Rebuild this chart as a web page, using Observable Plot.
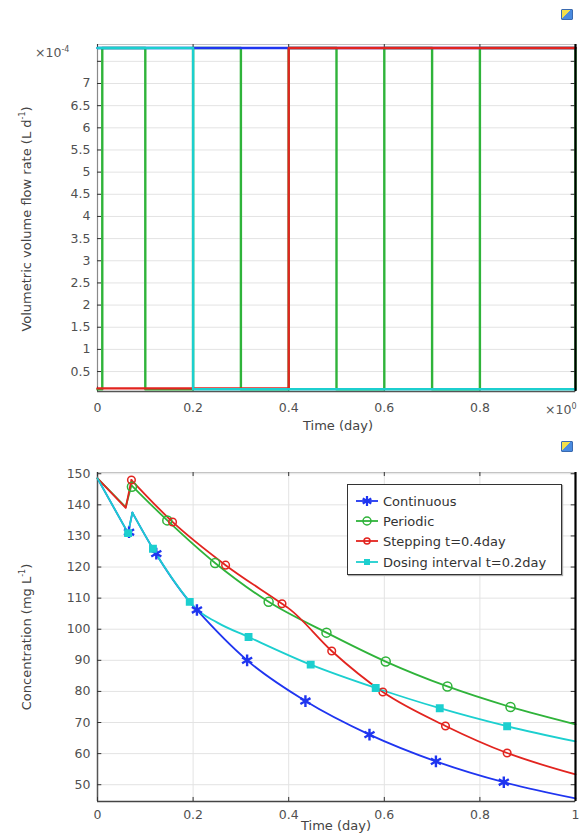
<!DOCTYPE html>
<html>
<head>
<meta charset="utf-8">
<script src="https://cdn.jsdelivr.net/npm/d3@7"></script>
<script src="https://cdn.jsdelivr.net/npm/@observablehq/plot@0.6"></script>
<style>
  html, body { margin: 0; padding: 0; background: #fff; }
  #page { position: relative; width: 584px; height: 833px; overflow: hidden; font-family: "DejaVu Sans", sans-serif; color: #444; }
  .abs { position: absolute; }
  .ylab { position: absolute; white-space: nowrap; font-size: 13px; color: #444; transform: translate(-50%, -50%) rotate(-90deg); }
  .xlab { position: absolute; white-space: nowrap; font-size: 13px; color: #444; transform: translate(-50%, -50%); }
  .icon { position: absolute; width: 10px; height: 9px; border: 1px solid #3a6ab0; background: linear-gradient(135deg, #f4e04a 0 45%, #4a8be0 45% 100%); border-radius: 1px; }
  #legend { position: absolute; left: 347px; top: 484px; width: 213px; height: 89px; border: 1.5px solid #333; background: #fff; box-shadow: 1px 1px 1px #aaa; }
  .lrow { position: absolute; left: 8px; height: 20px; display: flex; align-items: center; font-size: 13px; color: #333; white-space: nowrap; }
  .lrow svg { margin-right: 5px; }
</style>
</head>
<body>
<div id="page">
  <div id="topChart" class="abs" style="left:0;top:0"></div>
  <div id="botChart" class="abs" style="left:0;top:436px"></div>
</div>
<script>
// ---------------- Top chart: volumetric volume flow rate (×10⁻⁴ L d⁻¹) ----------------
const timeTicks = [0, 0.2, 0.4, 0.6, 0.8, 1];
const topTimeLabels = [0, 0.2, 0.4, 0.6, 0.8];
const flowTicks = [0.5, 1, 1.5, 2, 2.5, 3, 3.5, 4, 4.5, 5, 5.5, 6, 6.5, 7, 7.5];
const flowTickLabels = [0.5, 1, 1.5, 2, 2.5, 3, 3.5, 4, 4.5, 5, 5.5, 6, 6.5, 7];
const flowDomain = [0.05, 7.88];

const contFlowT = [0, 1];
const contFlowQ = [7.8, 7.8];
const stepFlowT = [0, 0.4, 0.4, 1];
const stepFlowQ = [0.12, 0.12, 7.8, 7.8];
const doseFlowT = [0, 0.2, 0.2, 1];
const doseFlowQ = [7.8, 7.8, 0.1, 0.1];
const periodicFlowT = [0, 0.01, 0.01, 0.1, 0.1, 0.2, 0.2, 0.3, 0.3, 0.4, 0.4, 0.5, 0.5, 0.6, 0.6, 0.7, 0.7, 0.8, 0.8, 1.0, 1.0];
const periodicFlowQ = [0.1, 0.1, 7.8, 7.8, 0.1, 0.1, 7.8, 7.8, 0.1, 0.1, 7.8, 7.8, 0.1, 0.1, 7.8, 7.8, 0.1, 0.1, 7.8, 7.8, 0.1];

// ---------------- Bottom chart: concentration (mg L⁻¹) ----------------
const concTicks = [50, 60, 70, 80, 90, 100, 110, 120, 130, 140, 150];
const concDomain = [44.6, 150.4];

// first three points of each series: start, dip, peak (drawn straight); the rest is a smooth decay
const contT = [0, 0.064, 0.073, 0.116, 0.193, 0.208, 0.313, 0.435, 0.569, 0.708, 0.85, 1.0];
const contC = [148.5, 130.9, 137.5, 125.9, 108.8, 106.2, 90, 76.9, 66.1, 57.5, 50.8, 45.6];
const contMarkT = [0.066, 0.123, 0.208, 0.313, 0.435, 0.569, 0.708, 0.85];
const contMarkC = [131.2, 124.3, 106.2, 90, 76.9, 66.1, 57.5, 50.8];

const perT = [0, 0.059, 0.071, 0.146, 0.246, 0.358, 0.479, 0.603, 0.732, 0.864, 1.0];
const perC = [148.5, 139.3, 146.3, 135, 121.3, 108.8, 98.9, 89.6, 81.6, 75, 69.4];
const perMarkT = [0.072, 0.146, 0.246, 0.358, 0.479, 0.603, 0.732, 0.864];
const perMarkC = [145.8, 135, 121.3, 108.8, 98.9, 89.6, 81.6, 75];

const stepT = [0, 0.059, 0.071, 0.157, 0.268, 0.386, 0.40, 0.49, 0.597, 0.728, 0.857, 1.0];
const stepC = [148.5, 139, 148, 134.5, 120.6, 108.2, 106.7, 93, 79.8, 68.9, 60.2, 53.3];
const stepMarkT = [0.071, 0.157, 0.268, 0.386, 0.49, 0.597, 0.728, 0.857];
const stepMarkC = [148, 134.5, 120.6, 108.2, 93, 79.8, 68.9, 60.2];

const doseT = [0, 0.064, 0.073, 0.116, 0.193, 0.2, 0.25, 0.316, 0.446, 0.582, 0.716, 0.857, 1.0];
const doseC = [148.5, 130.9, 137.5, 125.9, 108.8, 107.5, 102.2, 97.5, 88.6, 81.1, 74.6, 68.8, 63.9];
const doseMarkT = [0.064, 0.116, 0.193, 0.316, 0.446, 0.582, 0.716, 0.857];
const doseMarkC = [130.9, 125.9, 108.8, 97.5, 88.6, 81.1, 74.6, 68.8];

const seriesNames = ["Continuous", "Periodic", "Stepping t=0.4day", "Dosing interval t=0.2day"];
const colors = { blue: "#1f35f0", green: "#2fb33a", red: "#e2241f", cyan: "#1ccfcf" };

const zip = (xs, ys) => xs.map((x, i) => ({ x, y: ys[i] }));
const fmt = d => String(d);

const baseStyle = { fontFamily: "DejaVu Sans, sans-serif", fontSize: "12.5px", color: "#505050", background: "#fff", overflow: "visible" };

// ---------- Top plot ----------
const yMinT = flowDomain[0], yMaxT = flowDomain[1];
const topPlot = Plot.plot({
  width: 584, height: 436,
  marginLeft: 97, marginRight: 9, marginTop: 44, marginBottom: 45,
  style: baseStyle,
  x: { domain: [0, 1] },
  y: { domain: flowDomain },
  marks: [
    Plot.gridY(flowTicks, { stroke: "#e3e3e3", strokeOpacity: 1 }),
    Plot.gridX(timeTicks, { stroke: "#e3e3e3", strokeOpacity: 1 }),
    Plot.frame({ stroke: "#c4c4c4" }),
    Plot.ruleX([0], { stroke: "#8a8a8a", strokeWidth: 1.2 }),
    Plot.ruleY([yMinT], { stroke: "#555", strokeWidth: 1.5 }),
    Plot.ruleY(flowTicks, { y: d => d, x1: 0, x2: 0.009, stroke: "#333" }),
    Plot.ruleY(flowTicks, { y: d => d, x1: 0.991, x2: 1, stroke: "#333" }),
    Plot.ruleX(timeTicks, { x: d => d, y1: yMinT, y2: yMinT + 0.1, stroke: "#333" }),
    Plot.ruleX(timeTicks, { x: d => d, y1: yMaxT - 0.1, y2: yMaxT, stroke: "#333" }),
    Plot.axisY(flowTickLabels, { tickSize: 0, tickPadding: 7, label: null, fill: "#505050", tickFormat: fmt }),
    Plot.axisX(topTimeLabels, { tickSize: 0, tickPadding: 12, label: null, fill: "#505050", tickFormat: fmt }),
    Plot.line(zip(periodicFlowT, periodicFlowQ), { x: "x", y: "y", stroke: colors.green, strokeWidth: 2.4 }),
    Plot.line(zip(contFlowT, contFlowQ), { x: "x", y: "y", stroke: colors.blue, strokeWidth: 2.4 }),
    Plot.line(zip(stepFlowT, stepFlowQ), { x: "x", y: "y", stroke: colors.red, strokeWidth: 2.4 }),
    Plot.line(zip(doseFlowT, doseFlowQ), { x: "x", y: "y", stroke: colors.cyan, strokeWidth: 2.4 }),
    Plot.ruleX([1], { stroke: "#000", strokeWidth: 2.2 })
  ]
});
document.getElementById("topChart").appendChild(topPlot);

// ---------- Bottom plot ----------
const yMinB = concDomain[0], yMaxB = concDomain[1];
function seriesLine(ts, cs, color) {
  const pts = zip(ts, cs);
  return [
    Plot.line(pts.slice(0, 3), { x: "x", y: "y", stroke: color, strokeWidth: 1.8 }),
    Plot.line(pts.slice(2), { x: "x", y: "y", stroke: color, strokeWidth: 1.8, curve: "monotone-x" })
  ];
}
const botPlot = Plot.plot({
  width: 584, height: 397,
  marginLeft: 97, marginRight: 9, marginTop: 36, marginBottom: 32,
  style: baseStyle,
  x: { domain: [0, 1] },
  y: { domain: concDomain },
  marks: [
    Plot.gridY(concTicks, { stroke: "#e3e3e3", strokeOpacity: 1 }),
    Plot.gridX(timeTicks, { stroke: "#e3e3e3", strokeOpacity: 1 }),
    Plot.frame({ stroke: "#c4c4c4" }),
    Plot.ruleX([0], { stroke: "#555", strokeWidth: 1.5 }),
    Plot.ruleY([yMinB], { stroke: "#444", strokeWidth: 1.6 }),
    Plot.ruleY(concTicks, { y: d => d, x1: 0, x2: 0.009, stroke: "#333" }),
    Plot.ruleY(concTicks, { y: d => d, x1: 0.991, x2: 1, stroke: "#333" }),
    Plot.ruleX(timeTicks, { x: d => d, y1: yMinB, y2: yMinB + 1.3, stroke: "#333" }),
    Plot.ruleX(timeTicks, { x: d => d, y1: yMaxB - 1.3, y2: yMaxB, stroke: "#333" }),
    Plot.axisY(concTicks, { tickSize: 0, tickPadding: 7, label: null, fill: "#505050", tickFormat: fmt }),
    Plot.axisX(timeTicks, { tickSize: 0, tickPadding: 9, label: null, fill: "#505050", tickFormat: fmt }),
    ...seriesLine(contT, contC, colors.blue),
    ...seriesLine(perT, perC, colors.green),
    ...seriesLine(stepT, stepC, colors.red),
    ...seriesLine(doseT, doseC, colors.cyan),
    Plot.dot(zip(contMarkT, contMarkC), { x: "x", y: "y", symbol: "asterisk", r: 5.5, stroke: colors.blue, strokeWidth: 2.4 }),
    Plot.dot(zip(perMarkT, perMarkC), { x: "x", y: "y", symbol: "circle", r: 4.5, stroke: colors.green, strokeWidth: 1.5, fill: "none" }),
    Plot.dot(zip(stepMarkT, stepMarkC), { x: "x", y: "y", symbol: "circle", r: 3.8, stroke: colors.red, strokeWidth: 1.5, fill: "none" }),
    Plot.dot(zip(doseMarkT, doseMarkC), { x: "x", y: "y", symbol: "square", r: 3.6, fill: colors.cyan, stroke: colors.cyan }),
    Plot.ruleX([1], { stroke: "#000", strokeWidth: 2.2 })
  ]
});
document.getElementById("botChart").appendChild(botPlot);

// ---------- Text & decorations ----------
const page = document.getElementById("page");
function addDiv(cls, html, left, top, extra) {
  const d = document.createElement("div");
  d.className = cls;
  d.innerHTML = html;
  d.style.left = left + "px";
  d.style.top = top + "px";
  if (extra) Object.assign(d.style, extra);
  page.appendChild(d);
  return d;
}
addDiv("ylab", "Volumetric volume flow rate (L d<sup style='font-size:8px'>-1</sup>)", 26, 219);
addDiv("ylab", "Concentration (mg L<sup style='font-size:8px'>-1</sup>)", 26, 637);
addDiv("xlab", "Time (day)", 338, 425);
addDiv("xlab", "Time (day)", 336, 825);
addDiv("abs", "×10<sup style='font-size:8px'>-4</sup>", 35, 45, { fontSize: "12.5px", color: "#555" });
addDiv("abs", "×10<sup style='font-size:8px'>0</sup>", 545, 402, { fontSize: "12.5px", color: "#555" });
addDiv("icon", "", 561, 9);
addDiv("icon", "", 561, 441);

// Legend
const legend = document.createElement("div");
legend.id = "legend";
page.appendChild(legend);
const symbols = {
  blue: `<line x1="0" y1="6" x2="22" y2="6" stroke="${colors.blue}" stroke-width="1.8"/>` +
        `<g stroke="${colors.blue}" stroke-width="2.2"><line x1="11" y1="1" x2="11" y2="11"/><line x1="6.7" y1="3.5" x2="15.3" y2="8.5"/><line x1="6.7" y1="8.5" x2="15.3" y2="3.5"/></g>`,
  green: `<line x1="0" y1="6" x2="22" y2="6" stroke="${colors.green}" stroke-width="1.8"/><circle cx="11" cy="6" r="4" fill="none" stroke="${colors.green}" stroke-width="1.5"/>`,
  red: `<line x1="0" y1="6" x2="22" y2="6" stroke="${colors.red}" stroke-width="1.8"/><circle cx="11" cy="6" r="3" fill="none" stroke="${colors.red}" stroke-width="1.5"/>`,
  cyan: `<line x1="0" y1="6" x2="22" y2="6" stroke="${colors.cyan}" stroke-width="1.8"/><rect x="8" y="3" width="6" height="6" fill="${colors.cyan}"/>`
};
const keys = ["blue", "green", "red", "cyan"];
const rowTops = [6, 26, 46, 67];
seriesNames.forEach((name, i) => {
  const r = document.createElement("div");
  r.className = "lrow";
  r.style.top = rowTops[i] + "px";
  r.innerHTML = `<svg width="22" height="12">${symbols[keys[i]]}</svg><span>${name}</span>`;
  legend.appendChild(r);
});
</script>
</body>
</html>
